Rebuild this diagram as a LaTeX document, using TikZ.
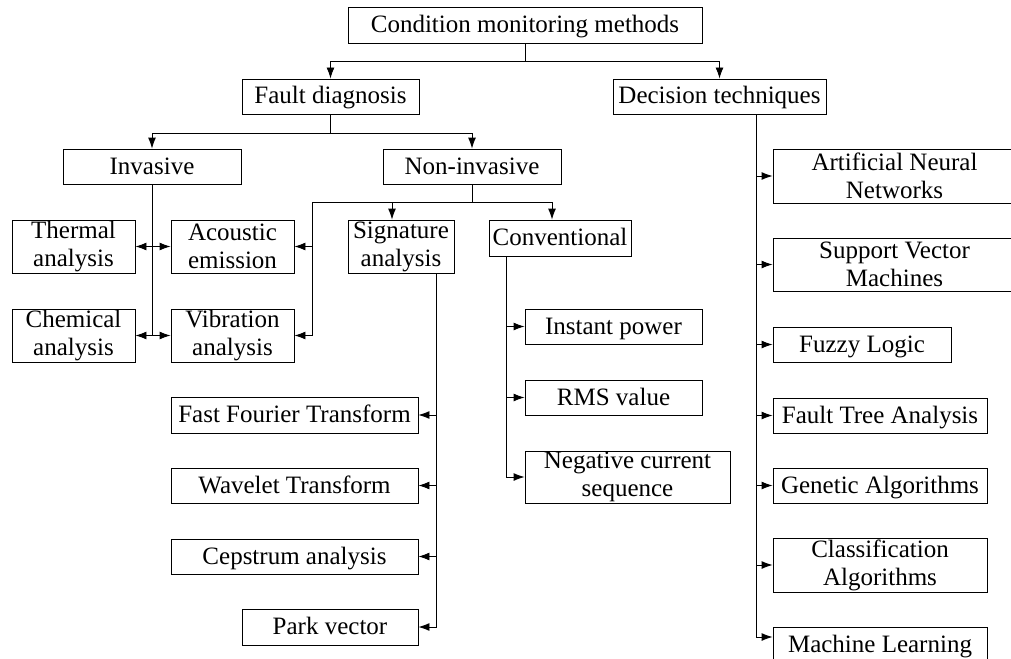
\documentclass[tikz,border=0pt]{standalone}
\usepackage{fontspec}
\setmainfont{Liberation Serif}
\usetikzlibrary{arrows.meta}
\tikzset{
  box/.style={draw, line width=0.9pt, inner sep=0pt, align=center,
    font=\fontsize{25}{28}\selectfont},
  onebox/.style={box, text height=20pt, text depth=5pt},
  arr/.style={-{Latex[length=11pt,width=8pt]}},
  both/.style={{Latex[length=11pt,width=8pt]}-{Latex[length=11pt,width=8pt]}}
}
\begin{document}
\begin{tikzpicture}[x=1pt, y=-1pt, line width=0.9pt]
      \clip (0,0) rectangle (1011,658);
      \fill[white] (0,0) rectangle (1011,658);
      \node[onebox, minimum width=354, minimum height=36] (cmm) at (525,25) {Condition monitoring methods};
      \node[onebox, minimum width=177, minimum height=35] (fault) at (330.5,96.5) {Fault diagnosis};
      \node[onebox, minimum width=213, minimum height=35] (dec) at (719.5,96.5) {Decision techniques};
      \node[onebox, minimum width=178, minimum height=35] (inv) at (152,166.5) {Invasive};
      \node[onebox, minimum width=178, minimum height=35] (noninv) at (472,166.5) {Non-invasive};
      \node[box, minimum width=123, minimum height=53] (thermal) at (73.5,246.5) {Thermal\\analysis};
      \node[box, minimum width=123, minimum height=53] (acoustic) at (232.5,246.5) {Acoustic\\emission};
      \node[box, minimum width=123, minimum height=53] (chemical) at (73.5,335.5) {Chemical\\analysis};
      \node[box, minimum width=123, minimum height=53] (vibration) at (232.5,335.5) {Vibration\\analysis};
      \node[box, minimum width=106, minimum height=53] (sig) at (401,246.5) {Signature\\analysis};
      \node[onebox, minimum width=142, minimum height=36] (conv) at (560,238) {Conventional};
      \node[onebox, minimum width=177, minimum height=35] (instant) at (613.5,326.5) {Instant power};
      \node[onebox, minimum width=177, minimum height=35] (rms) at (613.5,397.5) {RMS value};
      \node[box, minimum width=205, minimum height=52] (neg) at (627.5,477) {Negative current\\sequence};
      \node[onebox, minimum width=247, minimum height=36] (fft) at (294.5,415) {Fast Fourier Transform};
      \node[onebox, minimum width=247, minimum height=35] (wavelet) at (294.5,485.5) {Wavelet Transform};
      \node[onebox, minimum width=247, minimum height=35] (cepstrum) at (294.5,556.5) {Cepstrum analysis};
      \node[onebox, minimum width=176, minimum height=36] (park) at (330,627) {Park vector};
      \node[box, minimum width=243, minimum height=54] (ann) at (894.5,176) {Artificial Neural\\Networks};
      \node[box, minimum width=243, minimum height=53] (svm) at (894.5,264.5) {Support Vector\\Machines};
      \node[onebox, minimum width=178, minimum height=35] (fuzzy) at (862,344.5) {Fuzzy Logic};
      \node[onebox, minimum width=214, minimum height=35] (fta) at (880,415.5) {Fault Tree Analysis};
      \node[onebox, minimum width=214, minimum height=35] (ga) at (880,485.5) {Genetic Algorithms};
      \node[box, minimum width=214, minimum height=54] (ca) at (880,565) {Classification\\Algorithms};
      \node[onebox, minimum width=214, minimum height=35] (ml) at (880,644.5) {Machine Learning};
      \begin{scope}[arr]
        \draw (cmm.south) -- ++(0,18) coordinate (cb) -| (fault.north);
        \draw (cb) -| (dec.north);
        \draw (fault.south) -- ++(0,19) coordinate (fb) -| (inv.north);
        \draw (fb) -| (noninv.north);
        \draw[-] (inv.south) -- (inv.south |- chemical.east);
        \draw[both] (thermal) -- (acoustic);
        \draw[both] (chemical) -- (vibration);
        \draw (noninv.south) -- ++(0,18) coordinate (nb) -| ([xshift=-9]sig.north);
        \draw (nb) -| ([xshift=-8]conv.north);
        \draw (nb) -| (312,0 |- nb) |- (vibration.east);
        \draw (312,0 |- acoustic.east) -- (acoustic.east);
        \draw ([xshift=-18]sig.south east) coordinate (sx) |- (park.east);
        \draw (sx |- fft.east) -- (fft.east);
        \draw (sx |- wavelet.east) -- (wavelet.east);
        \draw (sx |- cepstrum.east) -- (cepstrum.east);
        \draw ([xshift=18]conv.south west) coordinate (vx) |- (neg.west);
        \draw (vx |- instant.west) -- (instant.west);
        \draw (vx |- rms.west) -- (rms.west);
        \draw ([xshift=-70]dec.south east) coordinate (dx) |- ([yshift=7.5]ml.west);
        \draw (dx |- ann.west) -- (ann.west);
        \draw (dx |- svm.west) -- (svm.west);
        \draw (dx |- fuzzy.west) -- (fuzzy.west);
        \draw (dx |- fta.west) -- (fta.west);
        \draw (dx |- ga.west) -- (ga.west);
        \draw (dx |- ca.west) -- (ca.west);
      \end{scope}
    \end{tikzpicture}
\end{document}
